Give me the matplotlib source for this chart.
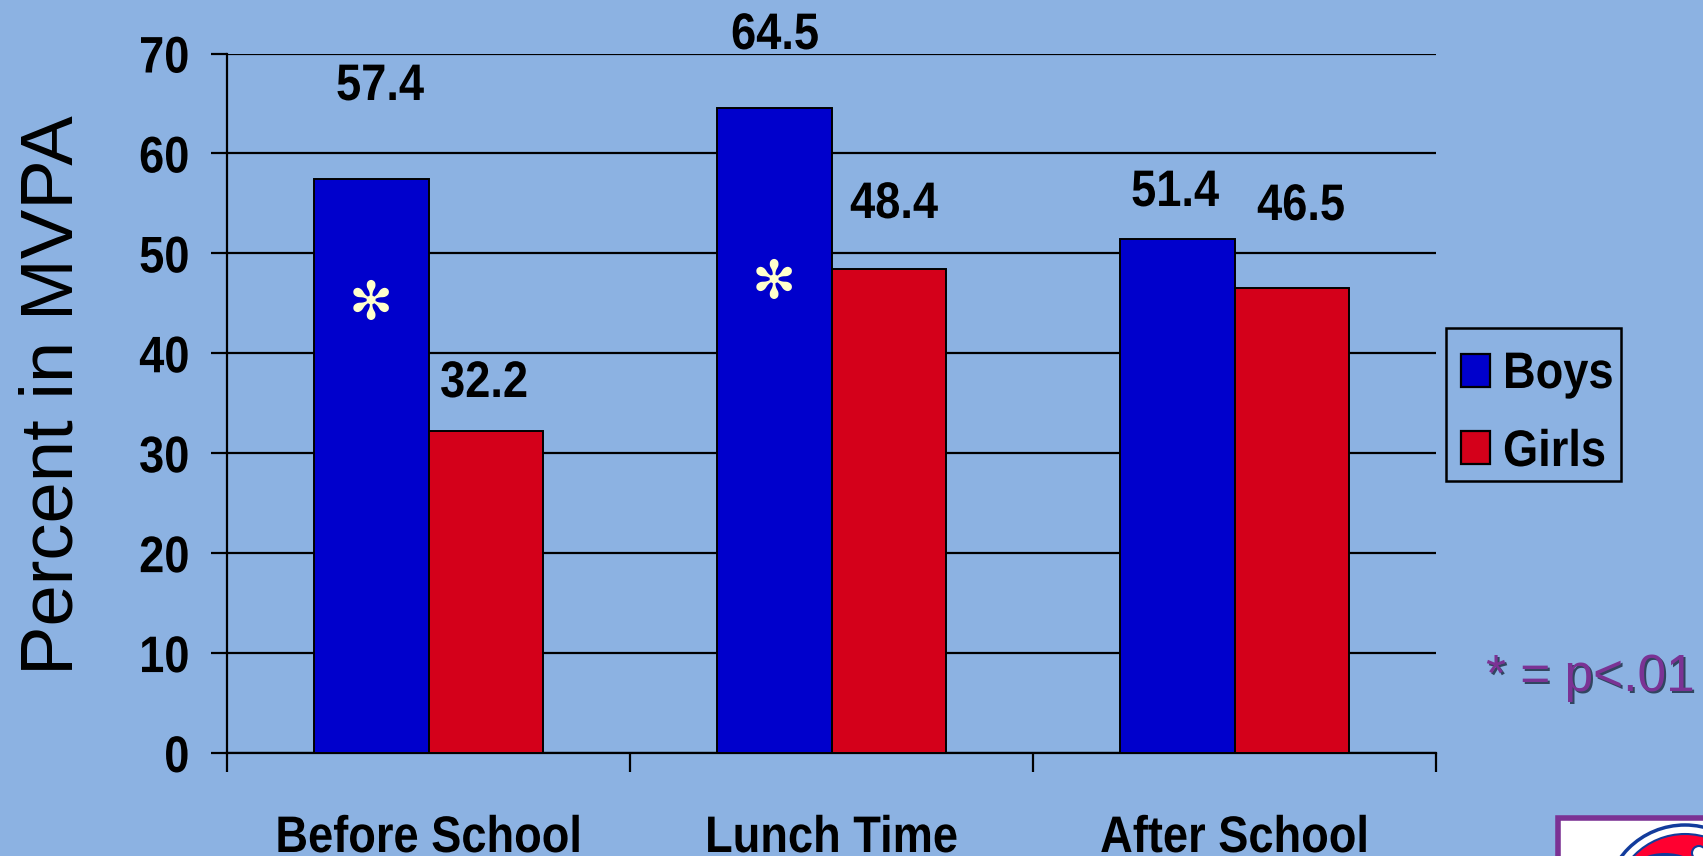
import matplotlib
matplotlib.use("Agg")
import matplotlib.pyplot as plt
from matplotlib.patches import Rectangle, Circle, Ellipse
from matplotlib.transforms import Affine2D
import matplotlib.patheffects as pe

categories = ["Before School", "Lunch Time", "After School"]
boys = [57.4, 64.5, 51.4]
girls = [32.2, 48.4, 46.5]
y_ticks = [0, 10, 20, 30, 40, 50, 60, 70]
significant_boys = [True, True, False]

W, H = 1703, 856
BG = "#8CB2E2"
BLUE = "#0000CC"
RED = "#D4001A"
PURPLE = "#7B3294"
NAVY = "#123C9C"
plt.rcParams["font.family"] = ["Liberation Sans", "DejaVu Sans"]


class Squeeze(pe.AbstractPathEffect):
    """Narrow a text horizontally about a pixel column, keeping its height."""

    def __init__(self, anchor_x, factor=0.88):
        super().__init__()
        self.anchor_x = anchor_x
        self.factor = factor

    def draw_path(self, renderer, gc, tpath, affine, rgbFace=None):
        squeeze = Affine2D().translate(-self.anchor_x, 0).scale(self.factor, 1).translate(self.anchor_x, 0)
        renderer.draw_path(gc, tpath, affine + squeeze, rgbFace)


fig = plt.figure(figsize=(W / 100, H / 100), dpi=100, facecolor=BG)
ax = fig.add_axes([227 / W, 1 - 753 / H, (1436 - 227) / W, (753 - 53.5) / H], facecolor=BG)

bar_w = 0.284
x = [0, 1, 2]
ax.set_xlim(-0.5, 2.5)
ax.set_ylim(0, 70)
ax.set_axisbelow(True)
ax.yaxis.grid(True, color="black", lw=1.6)
ax.bar([i - bar_w / 2 for i in x], boys, bar_w, color=BLUE, edgecolor="black", lw=1.4, zorder=3)
ax.bar([i + bar_w / 2 for i in x], girls, bar_w, color=RED, edgecolor="black", lw=1.4, zorder=3)

for s in ("top", "right"):
    ax.spines[s].set_visible(False)
for s in ("left", "bottom"):
    ax.spines[s].set_linewidth(1.6)

ax.set_yticks(y_ticks)
ax.tick_params(axis="y", length=11.5, width=1.6, pad=15.5)
ax.set_yticklabels([str(t) for t in y_ticks], fontweight="bold", fontsize=37)
for lab in ax.get_yticklabels():
    lab.set_path_effects([Squeeze(189)])
ax.set_xticks([-0.5, 0.5, 1.5, 2.5])
ax.set_xticklabels([])
ax.tick_params(axis="x", length=13.7, width=1.6, direction="out")

# Full-figure overlay in pixel coordinates for the legend, notes and badge
overlay = fig.add_axes([0, 0, 1, 1], facecolor="none", zorder=5)
overlay.set_xlim(0, W)
overlay.set_ylim(H, 0)
overlay.axis("off")


def bold_text(px, py, s, ha="center"):
    overlay.text(px, py, s, ha=ha, va="baseline", fontsize=37, fontweight="bold",
                 path_effects=[Squeeze(px)])


# Category names sit well below the axis
for i, name in zip(x, categories):
    bold_text(ax.transData.transform((i, 0))[0], 852, name)

boy_label_baselines = [(380, 100), (775, 49), (1175, 206)]
girl_label_baselines = [(484, 397), (894, 218), (1301, 220)]
for (px, py), v in zip(boy_label_baselines, boys):
    bold_text(px, py, f"{v:.1f}")
for (px, py), v in zip(girl_label_baselines, girls):
    bold_text(px, py, f"{v:.1f}")

# Significance markers on the boys' bars
star_pos = [(371, 304), (774, 283)]
for (px, py), flag in zip(star_pos, significant_boys):
    if flag:
        overlay.text(px, py, "\u273b", ha="center", va="center", color="#FFFFCC",
                     fontsize=38, family="DejaVu Sans")

overlay.text(88, 395, "Percent in MVPA", rotation=90, ha="right", va="center", fontsize=53.5)

# Legend box
overlay.add_patch(Rectangle((1446, 328), 175, 153, fc=BG, ec="black", lw=1.8))
for swatch_top, baseline, color, name in [(354, 388, BLUE, "Boys"), (431, 466, RED, "Girls")]:
    overlay.add_patch(Rectangle((1461, swatch_top), 29, 33, fc=color, ec="black", lw=1.6))
    bold_text(1503, baseline, name, ha="left")

# Footnote with a dark drop shadow behind it
overlay.text(1592.5, 693, "* = p<.01", ha="center", va="baseline", fontsize=37, color="#1A2A40", alpha=0.8)
overlay.text(1590, 691, "* = p<.01", ha="center", va="baseline", fontsize=37, color=PURPLE)

# Corner badge, cut off by the edge of the figure
overlay.add_patch(Rectangle((1557.5, 817.5), 180, 80, fc="white", ec=PURPLE, lw=4))
overlay.add_patch(Circle((1685, 905), 80, fc="white", ec=NAVY, lw=2.5))
overlay.add_patch(Circle((1685, 905), 71, fc="#FF0030", ec=NAVY, lw=1.5))
overlay.add_patch(Ellipse((1665, 868), 60, 30, fc=NAVY, ec="none"))
overlay.add_patch(Ellipse((1699, 853), 14, 14, fc="white", ec=NAVY, lw=1.5))

fig.savefig("out.png", dpi=100, facecolor=BG)
